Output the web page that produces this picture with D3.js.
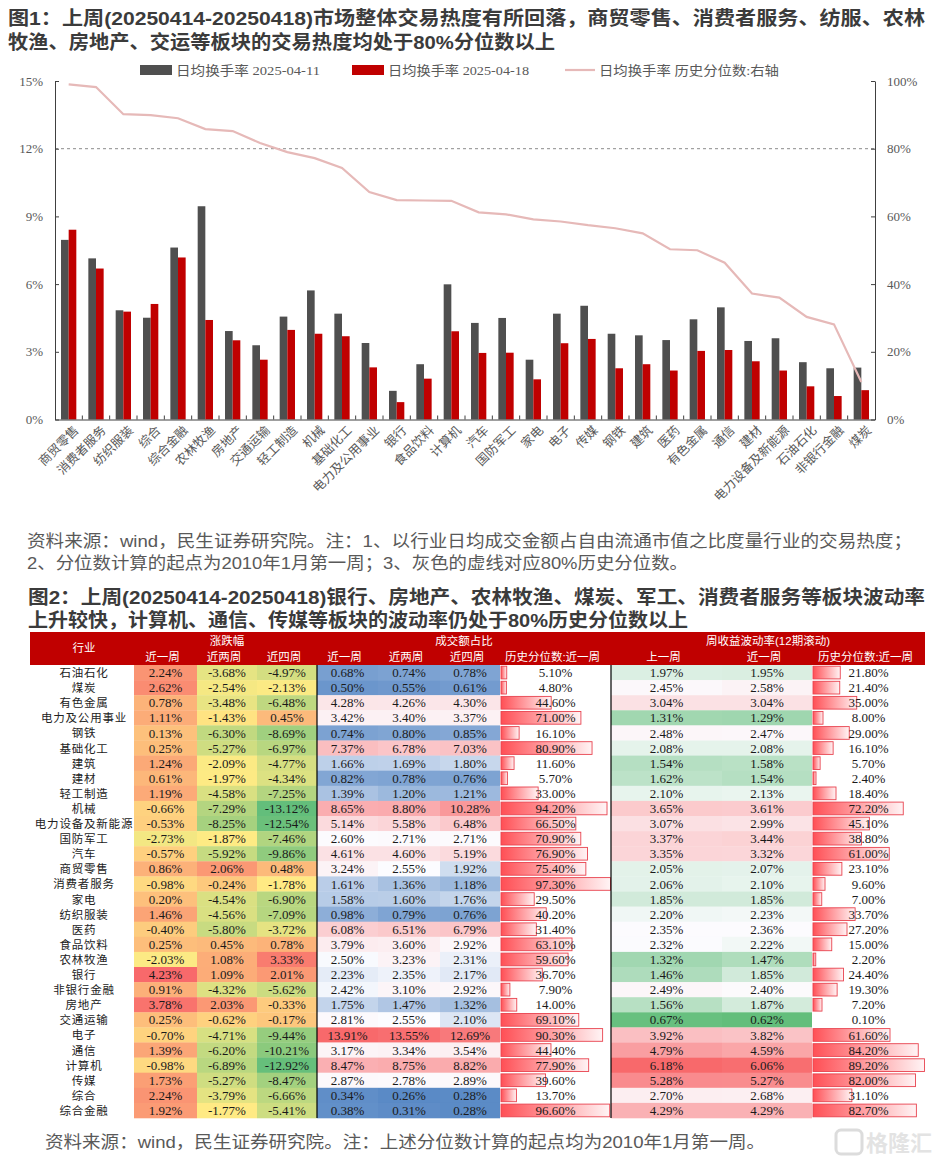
<!DOCTYPE html>
<html><head><meta charset="utf-8">
<script src="https://cdn.jsdelivr.net/npm/d3@7"></script>
<style>body{margin:0;background:#fff;} svg{display:block;}</style>
</head><body>
<svg id="c" width="938" height="1164"></svg>
<script>
// ---------- Chart 1 data ----------
const categories = ["商贸零售","消费者服务","纺织服装","综合","综合金融","农林牧渔","房地产","交通运输","轻工制造","机械","基础化工","电力及公用事业","银行","食品饮料","计算机","汽车","国防军工","家电","电子","传媒","钢铁","建筑","医药","有色金属","通信","建材","电力设备及新能源","石油石化","非银行金融","煤炭"];
const turnover0411 = [7.96,7.14,4.84,4.51,7.62,9.45,3.92,3.29,4.56,5.72,4.69,3.39,1.27,2.45,5.99,4.28,4.50,2.65,4.69,5.04,3.80,3.73,3.52,4.44,4.97,3.48,3.60,2.54,2.27,2.30];
const turnover0418 = [8.41,6.69,4.78,5.12,7.18,4.41,3.51,2.65,3.97,3.80,3.69,2.31,0.77,1.81,3.91,2.95,2.96,1.78,3.38,3.57,2.27,2.45,2.17,3.04,3.08,2.58,2.17,1.47,1.04,1.30];
const percentile = [99.0,98.2,90.2,89.9,89.0,85.8,85.2,81.7,79.0,77.2,74.3,67.2,64.8,64.7,64.6,61.2,60.6,59.1,58.5,57.4,56.5,55.0,50.3,50.0,46.3,37.2,36.0,30.3,28.1,11.1];
const leftTicks = [0,3,6,9,12,15];
const rightTicks = [0,20,40,60,80,100];
const legendLabels = ["日均换手率 2025-04-11","日均换手率 2025-04-18","日均换手率 历史分位数:右轴"];

// ---------- Chart 2 (table) data ----------
const industries = ["石油石化","煤炭","有色金属","电力及公用事业","钢铁","基础化工","建筑","建材","轻工制造","机械","电力设备及新能源","国防军工","汽车","商贸零售","消费者服务","家电","纺织服装","医药","食品饮料","农林牧渔","银行","非银行金融","房地产","交通运输","电子","通信","计算机","传媒","综合","综合金融"];
const chg1w = [2.24,2.62,0.78,1.11,0.13,0.25,1.24,0.61,1.19,-0.66,-0.53,-2.73,-0.57,0.86,-0.98,0.20,1.46,-0.40,0.25,-2.03,4.23,0.91,3.78,0.25,-0.70,1.39,-0.98,1.73,2.24,1.92];
const chg2w = [-3.68,-2.54,-3.48,-1.43,-6.30,-5.27,-2.09,-1.97,-4.58,-7.29,-8.25,-1.87,-5.92,2.06,-0.24,-4.54,-4.56,-5.80,0.45,1.08,1.09,-4.32,2.03,-0.62,-4.71,-6.20,-6.89,-5.27,-3.79,-1.77];
const chg4w = [-4.97,-2.13,-6.48,0.45,-8.69,-6.97,-4.77,-4.34,-7.25,-13.12,-12.54,-7.46,-9.86,0.48,-1.78,-6.90,-7.09,-3.72,0.78,3.33,2.01,-5.62,-0.33,-0.17,-9.44,-10.21,-12.92,-8.47,-6.66,-5.41];
const amt1w = [0.68,0.50,4.28,3.42,0.74,7.37,1.66,0.82,1.39,8.65,5.14,2.60,4.61,3.24,1.61,1.58,0.98,6.08,3.79,2.50,2.23,2.42,1.75,2.81,13.91,3.17,8.47,2.87,0.34,0.38];
const amt2w = [0.74,0.55,4.26,3.40,0.80,6.78,1.69,0.78,1.20,8.80,5.58,2.71,4.60,2.55,1.36,1.60,0.79,6.51,3.60,3.23,2.35,3.10,1.47,2.55,13.55,3.34,8.75,2.78,0.26,0.31];
const amt4w = [0.78,0.61,4.30,3.37,0.85,7.03,1.80,0.76,1.21,10.28,6.48,2.71,5.19,1.92,1.18,1.76,0.76,6.79,2.92,2.31,2.17,2.92,1.32,2.10,12.69,3.54,8.82,2.89,0.28,0.28];
const amtPct = [5.10,4.80,44.60,71.00,16.10,80.90,11.60,5.70,33.00,94.20,66.50,70.90,76.90,75.40,97.30,29.50,40.20,31.40,63.10,59.60,36.70,7.90,14.00,69.10,90.30,44.40,77.90,39.60,13.70,96.60];
const volPrev = [1.97,2.45,3.04,1.31,2.48,2.08,1.54,1.62,2.10,3.65,3.07,3.37,3.35,2.05,2.06,1.85,2.20,2.35,2.32,1.32,1.46,2.49,1.56,0.67,3.92,4.79,6.18,5.28,2.70,4.29];
const volCur = [1.95,2.58,3.04,1.29,2.47,2.08,1.58,1.54,2.13,3.61,2.99,3.44,3.32,2.07,2.10,1.85,2.23,2.36,2.22,1.47,1.85,2.40,1.87,0.62,3.82,4.59,6.06,5.27,2.68,4.29];
const volPct = [21.80,21.40,35.00,8.00,29.00,16.10,5.70,2.40,18.40,72.20,45.10,38.80,61.00,23.10,9.60,7.00,33.70,27.20,15.00,2.20,24.40,19.30,7.20,0.10,61.60,84.20,89.20,82.00,31.10,82.70];
const headerGroups = ["行业","涨跌幅","成交额占比","周收益波动率(12期滚动)"];
const headerCols = ["近一周","近两周","近四周","近一周","近两周","近四周","历史分位数:近一周","上一周","近一周","历史分位数:近一周"];

const svg = d3.select("#c");
const CJK = "'Noto Sans CJK SC','Noto Sans',sans-serif";
const TXT = "'Liberation Sans','Noto Sans CJK SC',sans-serif";
const SERIF = "'Liberation Serif','Noto Sans CJK SC',serif";

function fitText(sel, x, y, str, len, size, weight, color, fam){
  return sel.append("text").attr("x",x).attr("y",y).text(str)
    .attr("font-family",fam||TXT).attr("font-size",size).attr("font-weight",weight)
    .attr("fill",color).attr("textLength",len).attr("lengthAdjust","spacingAndGlyphs");
}

// ---------- Titles & sources ----------
fitText(svg, 8, 25, "图1：上周(20250414-20250418)市场整体交易热度有所回落，商贸零售、消费者服务、纺服、农林", 917, 19, 700, "#3b3b3b");
fitText(svg, 8, 49, "牧渔、房地产、交运等板块的交易热度均处于80%分位数以上", 547, 19, 700, "#3b3b3b");
fitText(svg, 27, 547, "资料来源：wind，民生证券研究院。注：1、以行业日均成交金额占自由流通市值之比度量行业的交易热度；", 885, 17, 400, "#595959");
fitText(svg, 27, 569, "2、分位数计算的起点为2010年1月第一周；3、灰色的虚线对应80%历史分位数。", 661, 17, 400, "#595959");
fitText(svg, 28, 604, "图2：上周(20250414-20250418)银行、房地产、农林牧渔、煤炭、军工、消费者服务等板块波动率", 897, 19, 700, "#3b3b3b");
fitText(svg, 28, 627, "上升较快，计算机、通信、传媒等板块的波动率仍处于80%历史分位数以上", 660, 19, 700, "#3b3b3b");
fitText(svg, 45, 1148, "资料来源：wind，民生证券研究院。注：上述分位数计算的起点均为2010年1月第一周。", 720, 17, 400, "#595959");

// watermark
const wm = svg.append("g").attr("opacity",0.5);
wm.append("rect").attr("x",836).attr("y",1130).attr("width",26).attr("height",24).attr("rx",5)
  .attr("fill","none").attr("stroke","#bbb").attr("stroke-width",3);
wm.append("text").attr("x",866).attr("y",1151).text("格隆汇").attr("font-family",TXT)
  .attr("font-size",22).attr("font-weight",700).attr("fill","#c8c8c8");

// ---------- Chart 1 ----------
const L = 55, R = 875, T = 81, B = 419.5;
const x = d3.scaleBand().domain(categories).range([L,R]).paddingInner(0.44).paddingOuter(0.22);
const xs = d3.scaleBand().domain(["a","b"]).range([0,x.bandwidth()]);
const y = d3.scaleLinear().domain([0,15]).range([B,T]);
const y2 = d3.scaleLinear().domain([0,100]).range([B,T]);
const g1 = svg.append("g");

// dashed 80% line
g1.append("line").attr("x1",L).attr("x2",R).attr("y1",y(12)).attr("y2",y(12))
  .attr("stroke","#8c8c8c").attr("stroke-width",1).attr("stroke-dasharray","3,3");

// bars
g1.append("g").selectAll("rect").data(categories).join("rect")
  .attr("x",d=>x(d)+xs("a")).attr("width",xs.bandwidth())
  .attr("y",(d,i)=>y(turnover0411[i])).attr("height",(d,i)=>B-y(turnover0411[i]))
  .attr("fill","#4f4f4f");
g1.append("g").selectAll("rect").data(categories).join("rect")
  .attr("x",d=>x(d)+xs("b")).attr("width",xs.bandwidth())
  .attr("y",(d,i)=>y(turnover0418[i])).attr("height",(d,i)=>B-y(turnover0418[i]))
  .attr("fill","#c00000");

// line
g1.append("path").datum(percentile)
  .attr("d", d3.line().x((d,i)=>x(categories[i])+x.bandwidth()/2).y(d=>y2(d)))
  .attr("fill","none").attr("stroke","#e6b9b8").attr("stroke-width",2.2);

// axes
const axL = g1.append("g").attr("transform",`translate(${L},0)`)
  .call(d3.axisLeft(y).tickValues(leftTicks).tickFormat(d=>d+"%").tickSizeInner(-4).tickSizeOuter(0).tickPadding(12));
const axR = g1.append("g").attr("transform",`translate(${R},0)`)
  .call(d3.axisRight(y2).tickValues(rightTicks).tickFormat(d=>d+"%").tickSizeInner(-4).tickSizeOuter(0).tickPadding(12));
const axB = g1.append("g").attr("transform",`translate(0,${B})`)
  .call(d3.axisBottom(x).tickSize(0).tickPadding(8));
[axL,axR].forEach(a=>{
  a.select(".domain").attr("stroke","#404040");
  a.selectAll(".tick line").attr("stroke","#404040");
  a.selectAll("text").attr("font-family",SERIF).attr("font-size",13).attr("fill","#595959");
});
axB.select(".domain").attr("stroke","#404040");
axB.selectAll(".tick text").attr("font-family",TXT).attr("font-size",12.5).attr("fill","#595959")
  .attr("text-anchor","end").attr("dy",0).attr("transform","translate(5,6) rotate(-45)");
// category boundary ticks (inside)
g1.append("g").selectAll("line").data(d3.range(1,categories.length)).join("line")
  .attr("x1",i=>L+i*x.step()).attr("x2",i=>L+i*x.step())
  .attr("y1",B).attr("y2",B-4).attr("stroke","#404040");

// legend
const lg = svg.append("g").attr("font-family",SERIF).attr("font-size",13).attr("fill","#595959");
lg.append("rect").attr("x",140).attr("y",65).attr("width",32).attr("height",10).attr("fill","#4f4f4f");
lg.append("text").attr("x",176).attr("y",75).text(legendLabels[0]).attr("textLength",144).attr("lengthAdjust","spacingAndGlyphs");
lg.append("rect").attr("x",352).attr("y",65).attr("width",32).attr("height",10).attr("fill","#c00000");
lg.append("text").attr("x",388).attr("y",75).text(legendLabels[1]).attr("textLength",141).attr("lengthAdjust","spacingAndGlyphs");
lg.append("line").attr("x1",565).attr("x2",595).attr("y1",70).attr("y2",70).attr("stroke","#e6b9b8").attr("stroke-width",2.2);
lg.append("text").attr("x",599).attr("y",75).text(legendLabels[2]).attr("textLength",180).attr("lengthAdjust","spacingAndGlyphs");

// ---------- Table ----------
const edges = [30,134,197,257,317,378,440,500,611,722,812,925];
const tTop = 632, hTop = 665, rowH = 15.1;
const rowY = d3.scaleBand().domain(industries).range([hTop, hTop+rowH*industries.length]);
const tg = svg.append("g");

// header
tg.append("rect").attr("x",edges[0]).attr("y",tTop).attr("width",edges[11]-edges[0]).attr("height",hTop-tTop).attr("fill","#c00000");
const hdr = tg.append("g").attr("font-family",TXT).attr("font-size",11.5).attr("fill","#fff").attr("text-anchor","middle");
hdr.append("text").attr("x",84).attr("y",652).text(headerGroups[0]);
hdr.append("text").attr("x",(edges[2]+edges[3])/2).attr("y",645).text(headerGroups[1]);
hdr.append("text").attr("x",(edges[4]+edges[8])/2).attr("y",645).text(headerGroups[2]);
hdr.append("text").attr("x",(edges[8]+edges[11])/2).attr("y",645).text(headerGroups[3]);
headerCols.forEach((h,i)=>{
  hdr.append("text").attr("x",(edges[i+1]+edges[i+2])/2-3).attr("y",661).text(h);
});

// color scales
function tri(vals, colors){
  const s = vals.slice().sort(d3.ascending);
  return d3.scaleLinear().domain([s[0], d3.quantile(s,0.5), s[s.length-1]]).range(colors).interpolate(d3.interpolateRgb);
}
const chgColor = tri(chg1w.concat(chg2w,chg4w), ["#63BE7B","#FFEB84","#F8696B"]);
const amtColor = tri(amt1w.concat(amt2w,amt4w), ["#5A8AC6","#FCFCFF","#F8696B"]);
const volColor = tri(volPrev.concat(volCur), ["#63BE7B","#FCFCFF","#F8696B"]);

const cols = [
  {vals:chg1w, c:chgColor},{vals:chg2w, c:chgColor},{vals:chg4w, c:chgColor},
  {vals:amt1w, c:amtColor},{vals:amt2w, c:amtColor},{vals:amt4w, c:amtColor},
  {vals:amtPct, bar:true},
  {vals:volPrev, c:volColor},{vals:volCur, c:volColor},
  {vals:volPct, bar:true}
];

const defs = svg.append("defs");
const grad = defs.append("linearGradient").attr("id","barGrad").attr("x1","0").attr("x2","1").attr("y1","0").attr("y2","0");
grad.append("stop").attr("offset","0%").attr("stop-color","#FF4F55");
grad.append("stop").attr("offset","100%").attr("stop-color","#FFF4F5");

// industry names
tg.append("g").selectAll("text").data(industries).join("text")
  .attr("x",84).attr("y",d=>rowY(d)+rowH/2+4.5).text(d=>d)
  .attr("text-anchor","middle").attr("font-family",TXT).attr("font-size",11.5).attr("fill","#222").attr("letter-spacing",0.8);

cols.forEach((col,ci)=>{
  const x0 = edges[ci+1], x1 = edges[ci+2];
  const cg = tg.append("g");
  if(col.bar){
    const bw = d3.scaleLinear().domain([0,d3.max(col.vals)]).range([0,x1-x0-1.5]);
    cg.selectAll("rect").data(col.vals).join("rect")
      .attr("x",x0+1).attr("y",(d,i)=>rowY(industries[i])+1.2).attr("height",rowH-2.4)
      .attr("width",d=>Math.max(0,bw(d))).attr("fill","url(#barGrad)")
      .attr("stroke",d=>bw(d)>1?"#E8434F":"none").attr("stroke-width",0.9);
  } else {
    cg.selectAll("rect").data(col.vals).join("rect")
      .attr("x",x0).attr("width",x1-x0).attr("y",(d,i)=>rowY(industries[i])).attr("height",rowH+0.3)
      .attr("fill",d=>col.c(d));
  }
  cg.selectAll("text").data(col.vals).join("text")
    .attr("x",(x0+x1)/2).attr("y",(d,i)=>rowY(industries[i])+rowH/2+4.6)
    .text(d=>d.toFixed(2)+"%").attr("text-anchor","middle")
    .attr("font-family",SERIF).attr("font-size",13).attr("fill","#1a1a1a");
});

// black separators
[edges[4], edges[8]].forEach(xx=>{
  tg.append("line").attr("x1",xx).attr("x2",xx).attr("y1",hTop).attr("y2",hTop+rowH*industries.length)
    .attr("stroke","#000").attr("stroke-width",1.2);
});
</script>
</body></html>
